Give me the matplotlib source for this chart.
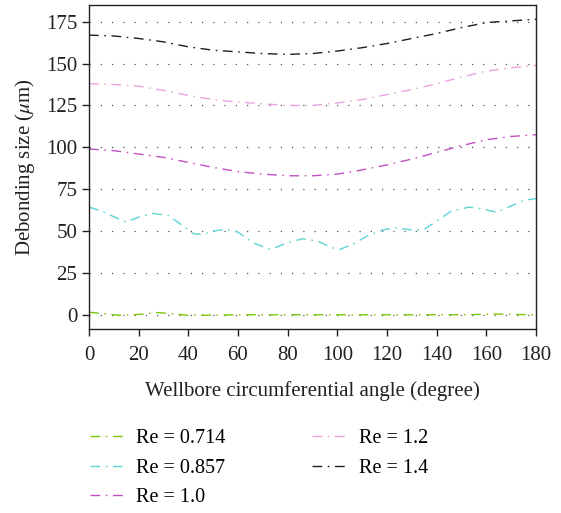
import matplotlib
matplotlib.use("Agg")
import matplotlib.pyplot as plt

plt.rcParams['font.family'] = ['Liberation Serif', 'DejaVu Serif']
plt.rcParams['mathtext.fontset'] = 'stix'

# Angles (degree) and debonding sizes (um) for each Re
angle = [0, 10, 20, 30, 40, 50, 60, 70, 80, 90, 100, 110, 120, 130, 140, 150, 160, 170, 180]
re_1_4 = [167, 166.5, 165, 163, 160, 158, 157, 156, 155.5, 156, 157.5, 159.5, 162, 165, 168, 171.5, 174.5, 175.5, 176.5]
re_1_2 = [138, 137.5, 136.5, 134, 131, 128.5, 127, 126, 125, 125, 126.5, 128.5, 131.5, 134.5, 138, 142, 145.5, 147.5, 149]
re_1_0 = [99, 98, 96, 94, 91, 88, 85.5, 84, 83, 83, 84, 86.5, 89.5, 93, 97, 101, 104.5, 106.5, 107.5]

angle_857 = [0, 5, 10, 15, 20, 26, 32, 37, 42, 46, 50, 55, 60, 66, 73, 80, 86, 92, 98, 101, 106,
             112, 118, 123, 130, 135, 140, 146, 153, 158, 164, 170, 175, 180]
re_0_857 = [64.3, 62, 58.5, 55.4, 58.3, 60.5, 59.3, 54, 48.4, 48, 50, 51, 49.4, 43, 39, 43, 45.4, 44,
            40, 39, 42, 47, 50.6, 52, 50.6, 51, 56, 62, 64.3, 63.3, 61.3, 65, 68.3, 69.4]

angle_714 = [0, 5, 12, 20, 28, 34, 40, 50, 60, 80, 100, 120, 140, 155, 163, 170, 180]
re_0_714 = [1.5, 0.8, -0.3, 0.2, 1.3, 0.5, -0.3, -0.2, 0, 0, 0, 0, 0, 0.1, 0.5, 0.2, 0]

series = [
    ("Re = 0.714", angle_714, re_0_714, "#7cc70a"),
    ("Re = 0.857", angle_857, re_0_857, "#5dd3d3"),
    ("Re = 1.0", angle, re_1_0, "#c24fc0"),
    ("Re = 1.2", angle, re_1_2, "#eaa3e2"),
    ("Re = 1.4", angle, re_1_4, "#1e1e1e"),
]

fig = plt.figure(figsize=(5.61, 5.13), dpi=100)
ax = fig.add_axes([89 / 561, 1 - 329 / 513, (536 - 89) / 561, (329 - 5) / 513])

for label, x, y, c in series:
    ax.plot(x, y, color=c, lw=1.0, linestyle=(0, (7, 4, 1.2, 4)), label=label)

ax.set_xlim(0, 180)
ax.set_ylim(-8.5, 185)
ax.set_xticks(range(0, 181, 20))
ax.set_yticks(range(0, 176, 25))
ax.yaxis.grid(True, linestyle=(0, (1, 8)), color="#555555", lw=0.9)
ax.tick_params(direction="out", length=5, width=1, labelsize=15, colors="#222222")
ax.tick_params(axis="x", pad=7)
for s in ax.spines.values():
    s.set_linewidth(1.0)
    s.set_color("#222222")

ax.set_xlabel("Wellbore circumferential angle (degree)", fontsize=15, labelpad=12, color="#222222")
ax.set_ylabel(r"Debonding size ($\mu$m)", fontsize=15, labelpad=6, color="#222222")

ax.legend(loc="upper left", bbox_to_anchor=(-0.016, -0.285), ncol=2, frameon=False,
          fontsize=14.5, handlelength=1.75, columnspacing=4.3, labelspacing=0.5,
          handletextpad=0.55, borderaxespad=0)

fig.savefig("out.png", dpi=100)
